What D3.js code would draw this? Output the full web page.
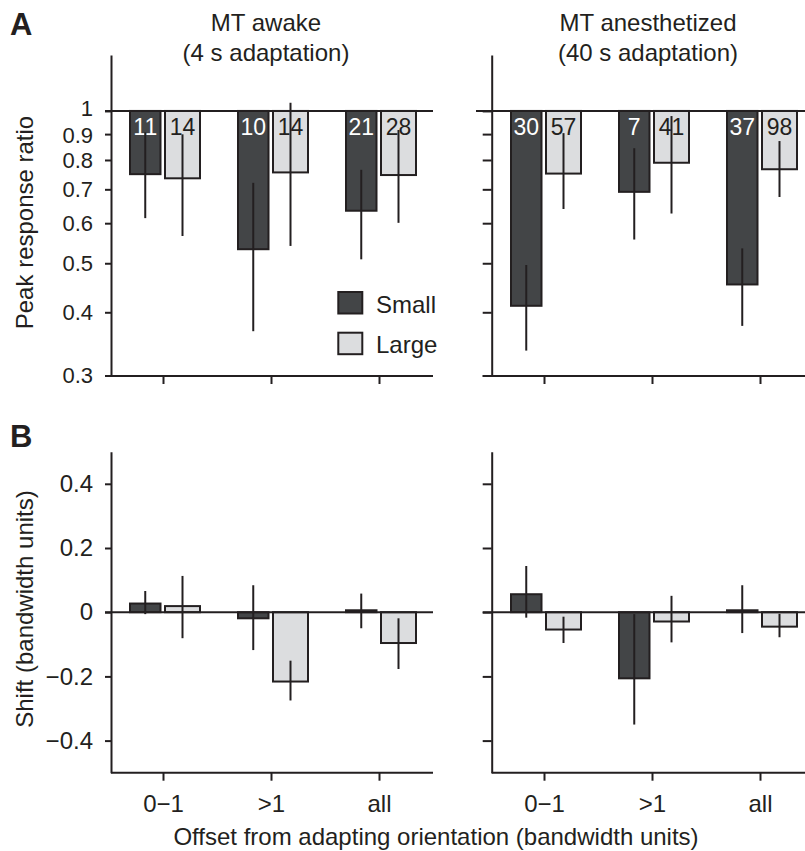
<!DOCTYPE html>
<html><head><meta charset="utf-8">
<script src="https://cdn.jsdelivr.net/npm/d3@7"></script>
<style>
body{margin:0;background:#fff;}
svg text{font-family:"Liberation Sans",Arial,Helvetica,sans-serif;fill:#231f20;}
</style></head>
<body><svg id="c" width="805" height="851"></svg>
<script>
// ---------- data ----------
const categories = ["0\u22121", ">1", "all"];
const panelTitles = ["MT awake", "MT anesthetized"];
const panelSubtitles = ["(4 s adaptation)", "(40 s adaptation)"];
const seriesNames = ["Small", "Large"];

const ratioTicks = [0.3, 0.4, 0.5, 0.6, 0.7, 0.8, 0.9, 1];
const ratioTickLabels = ["0.3", "0.4", "0.5", "0.6", "0.7", "0.8", "0.9", "1"];
const shiftTicks = [-0.4, -0.2, 0, 0.2, 0.4];
const shiftTickLabels = ["\u22120.4", "\u22120.2", "0", "0.2", "0.4"];

// Peak response ratio, awake
const awakeSmallRatio = [0.750, 0.533, 0.635];
const awakeSmallRatioLo = [0.614, 0.367, 0.509];
const awakeSmallRatioHi = [0.907, 0.721, 0.765];
const awakeLargeRatio = [0.736, 0.756, 0.747];
const awakeLargeRatioLo = [0.566, 0.541, 0.601];
const awakeLargeRatioHi = [0.899, 1.038, 0.917];
const awakeSmallN = [11, 10, 21];
const awakeLargeN = [14, 14, 28];

// Peak response ratio, anesthetized
const anesSmallRatio = [0.412, 0.692, 0.454];
const anesSmallRatioLo = [0.336, 0.557, 0.376];
const anesSmallRatioHi = [0.496, 0.844, 0.535];
const anesLargeRatio = [0.752, 0.790, 0.767];
const anesLargeRatioLo = [0.640, 0.627, 0.676];
const anesLargeRatioHi = [0.904, 0.977, 0.872];
const anesSmallN = [30, 7, 37];
const anesLargeN = [57, 41, 98];

// Shift (bandwidth units), awake
const awakeSmallShift = [0.027, -0.019, 0.006];
const awakeSmallShiftLo = [-0.006, -0.118, -0.050];
const awakeSmallShiftHi = [0.066, 0.084, 0.058];
const awakeLargeShift = [0.019, -0.216, -0.096];
const awakeLargeShiftLo = [-0.081, -0.275, -0.177];
const awakeLargeShiftHi = [0.113, -0.151, -0.019];

// Shift (bandwidth units), anesthetized
const anesSmallShift = [0.056, -0.206, 0.006];
const anesSmallShiftLo = [-0.017, -0.350, -0.065];
const anesSmallShiftHi = [0.144, -0.006, 0.084];
const anesLargeShift = [-0.054, -0.029, -0.045];
const anesLargeShiftLo = [-0.096, -0.094, -0.078];
const anesLargeShiftHi = [-0.014, 0.051, -0.005];

// ---------- style ----------
const INK = "#231f20", DARK = "#434547", LIGHT = "#dcdddf";
const FS = 24;
const FS_TICK = 22;
const FS_N = 23;

const svg = d3.select("#c");

function rows(vals, lo, hi, n) {
  return categories.map((c, i) => ({cat: c, v: vals[i], lo: lo[i], hi: hi[i], n: n ? n[i] : null}));
}
const panels = [
  {
    xr: [163, 379], axisX: 111, tick: 6, refStart: 105, lineEnd: 433, bottomStart: 105, bottomStartB: 111, zeroStart: 105, labels: true, cx: 266,
    ratio: [rows(awakeSmallRatio, awakeSmallRatioLo, awakeSmallRatioHi, awakeSmallN), rows(awakeLargeRatio, awakeLargeRatioLo, awakeLargeRatioHi, awakeLargeN)],
    shift: [rows(awakeSmallShift, awakeSmallShiftLo, awakeSmallShiftHi), rows(awakeLargeShift, awakeLargeShiftLo, awakeLargeShiftHi)]
  },
  {
    xr: [544, 760], axisX: 491.7, tick: 9, refStart: 476, lineEnd: 805, bottomStart: 482.7, bottomStartB: 491.7, zeroStart: 482.7, labels: false, cx: 648,
    ratio: [rows(anesSmallRatio, anesSmallRatioLo, anesSmallRatioHi, anesSmallN), rows(anesLargeRatio, anesLargeRatioLo, anesLargeRatioHi, anesLargeN)],
    shift: [rows(anesSmallShift, anesSmallShiftLo, anesSmallShiftHi), rows(anesLargeShift, anesLargeShiftLo, anesLargeShiftHi)]
  }
];

const yA = d3.scaleLog().domain([0.3, 1.29]).range([375.5, 55]);
const yB = d3.scaleLinear().domain([-0.5, 0.5]).range([772.7, 451.7]);

const barGeom = [{off: -33, w: 30.5}, {off: 2, w: 35}];
const fills = [DARK, LIGHT];

function styleAxis(sel, fs) {
  sel.select(".domain").attr("stroke", INK).attr("stroke-width", 2);
  sel.selectAll(".tick line").attr("stroke", INK).attr("stroke-width", 2);
  sel.selectAll(".tick text").attr("font-size", fs).attr("font-family", "Liberation Sans, Arial, sans-serif").attr("fill", INK);
}

panels.forEach((p, pi) => {
  const x = d3.scalePoint().domain(categories).range(p.xr);
  const g = svg.append("g");

  g.append("text").attr("x", p.cx).attr("y", 31).attr("text-anchor", "middle").attr("font-size", FS).text(panelTitles[pi]);
  g.append("text").attr("x", p.cx).attr("y", 61).attr("text-anchor", "middle").attr("font-size", FS).text(panelSubtitles[pi]);

  // ---------------- Panel A ----------------
  const yAxisA = d3.axisLeft(yA).tickValues(ratioTicks).tickSize(p.tick).tickSizeOuter(0)
    .tickFormat((d, i) => p.labels ? ratioTickLabels[i] : "");
  const ga = g.append("g").attr("transform", `translate(${p.axisX},0)`).call(yAxisA);
  styleAxis(ga, FS_TICK);
  ga.selectAll(".tick text").attr("x", -18)
    .attr("dy", d => d === 1 ? "0.2em" : (d === 0.9 ? "0.36em" : "0.32em"));

  const xAxisA = d3.axisBottom(x).tickSize(8).tickSizeOuter(0).tickFormat("");
  const gxa = g.append("g").attr("transform", `translate(0,376)`).call(xAxisA);
  gxa.select(".domain").remove();
  styleAxis(gxa, FS);
  g.append("line").attr("x1", p.bottomStart).attr("x2", p.lineEnd).attr("y1", 376).attr("y2", 376).attr("stroke", INK).attr("stroke-width", 2);

  p.ratio.forEach((ser, si) => {
    const bg = barGeom[si];
    g.selectAll(null).data(ser).enter().append("rect")
      .attr("x", d => x(d.cat) + bg.off).attr("width", bg.w)
      .attr("y", yA(1)).attr("height", d => yA(d.v) - yA(1))
      .attr("fill", fills[si]).attr("stroke", INK).attr("stroke-width", 2);
  });
  p.ratio.forEach((ser, si) => {
    const bg = barGeom[si];
    g.selectAll(null).data(ser).enter().append("text")
      .attr("x", d => x(d.cat) + bg.off + bg.w / 2).attr("y", 135)
      .attr("text-anchor", "middle").attr("font-size", FS_N)
      .style("fill", si === 0 ? "#ffffff" : INK).text(d => d.n);
  });
  p.ratio.forEach((ser, si) => {
    const bg = barGeom[si];
    g.selectAll(null).data(ser).enter().append("line")
      .attr("x1", d => x(d.cat) + bg.off + bg.w / 2).attr("x2", d => x(d.cat) + bg.off + bg.w / 2)
      .attr("y1", d => yA(d.hi)).attr("y2", d => yA(d.lo))
      .attr("stroke", INK).attr("stroke-width", 2);
  });
  g.append("line").attr("x1", p.refStart).attr("x2", p.lineEnd).attr("y1", yA(1)).attr("y2", yA(1)).attr("stroke", INK).attr("stroke-width", 2);

  // ---------------- Panel B ----------------
  const yAxisB = d3.axisLeft(yB).tickValues(shiftTicks).tickSize(p.tick).tickSizeOuter(0)
    .tickFormat((d, i) => p.labels ? shiftTickLabels[i] : "");
  const gb = g.append("g").attr("transform", `translate(${p.axisX},0)`).call(yAxisB);
  styleAxis(gb, FS);
  gb.selectAll(".tick text").attr("x", -18);

  const xAxisB = d3.axisBottom(x).tickSize(8).tickSizeOuter(0).tickPadding(14);
  const gxb = g.append("g").attr("transform", `translate(0,772.7)`).call(xAxisB);
  gxb.select(".domain").remove();
  styleAxis(gxb, FS);
  g.append("line").attr("x1", p.bottomStartB).attr("x2", p.lineEnd).attr("y1", 772.7).attr("y2", 772.7).attr("stroke", INK).attr("stroke-width", 2);

  p.shift.forEach((ser, si) => {
    const bg = barGeom[si];
    g.selectAll(null).data(ser).enter().append("rect")
      .attr("x", d => x(d.cat) + bg.off).attr("width", bg.w)
      .attr("y", d => Math.min(yB(0), yB(d.v))).attr("height", d => Math.abs(yB(d.v) - yB(0)))
      .attr("fill", fills[si]).attr("stroke", INK).attr("stroke-width", 2);
  });
  p.shift.forEach((ser, si) => {
    const bg = barGeom[si];
    g.selectAll(null).data(ser).enter().append("line")
      .attr("x1", d => x(d.cat) + bg.off + bg.w / 2).attr("x2", d => x(d.cat) + bg.off + bg.w / 2)
      .attr("y1", d => yB(d.hi)).attr("y2", d => yB(d.lo))
      .attr("stroke", INK).attr("stroke-width", 2);
  });
  g.append("line").attr("x1", p.zeroStart).attr("x2", p.lineEnd).attr("y1", yB(0)).attr("y2", yB(0)).attr("stroke", INK).attr("stroke-width", 2);
});

svg.append("text").attr("transform", "translate(33,222.5) rotate(-90)").attr("text-anchor", "middle").attr("font-size", FS).text("Peak response ratio");
svg.append("text").attr("transform", "translate(33,609) rotate(-90)").attr("text-anchor", "middle").attr("font-size", FS).text("Shift (bandwidth units)");
svg.append("text").attr("x", 436).attr("y", 845).attr("text-anchor", "middle").attr("font-size", FS).text("Offset from adapting orientation (bandwidth units)");

svg.append("text").attr("x", 10).attr("y", 35).attr("font-size", 31).attr("font-weight", "bold").text("A");
svg.append("text").attr("x", 10).attr("y", 447).attr("font-size", 31).attr("font-weight", "bold").text("B");

const leg = svg.append("g");
seriesNames.forEach((s, i) => {
  leg.append("rect").attr("x", 338.3).attr("y", 292 + i * 40.7).attr("width", 24).attr("height", 21.5)
    .attr("fill", fills[i]).attr("stroke", INK).attr("stroke-width", 2);
  leg.append("text").attr("x", 376).attr("y", 313 + i * 40).attr("font-size", FS).text(s);
});
</script></body></html>
